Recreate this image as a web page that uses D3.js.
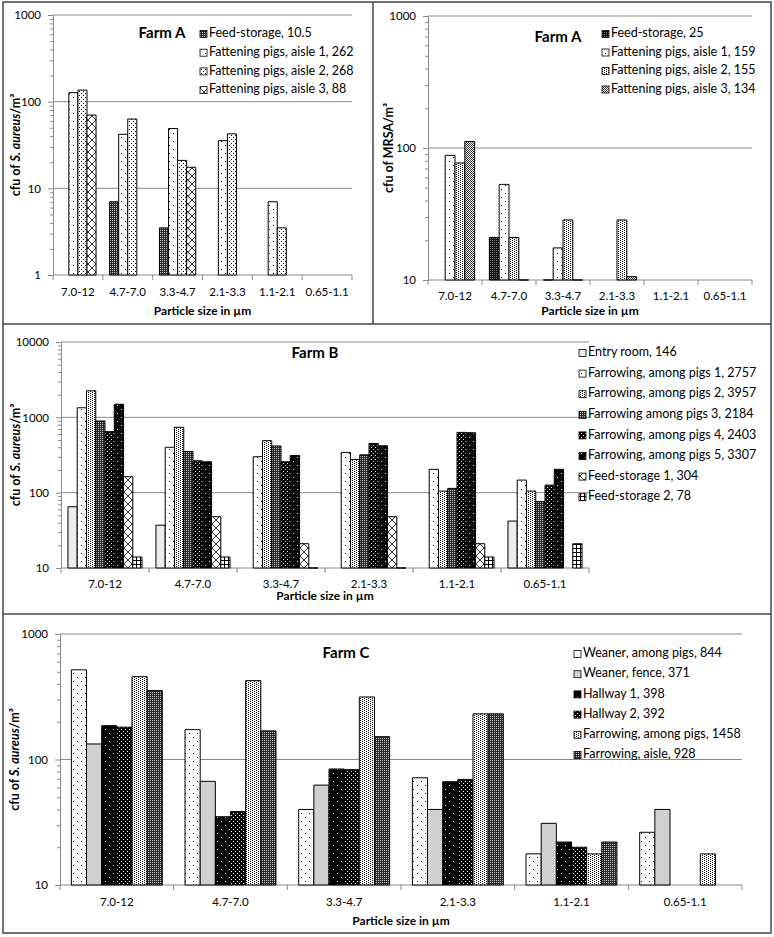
<!DOCTYPE html>
<html>
<head>
<meta charset="utf-8">
<script src="https://cdn.jsdelivr.net/npm/d3@7"></script>
<style>
  body { margin: 0; background: #fff; }
  text { font-family: Lato, "Open Sans", sans-serif; fill: #000; }
</style>
</head>
<body>
<div id="chart"></div>
<script>
// particle size classes (x categories, same for every panel)
const sizes = ["7.0-12", "4.7-7.0", "3.3-4.7", "2.1-3.3", "1.1-2.1", "0.65-1.1"];

// Farm A, S. aureus
const farmANames = ["Feed-storage, 10.5", "Fattening pigs, aisle 1, 262", "Fattening pigs, aisle 2, 268", "Fattening pigs, aisle 3, 88"];
const farmAFeed = [null, 7, 3.5, null, null, null];
const farmAAisle1 = [127, 42, 49, 35.5, 7, null];
const farmAAisle2 = [136, 63, 21, 42.5, 3.5, null];
const farmAAisle3 = [70, null, 17.5, null, null, null];

// Farm A, MRSA
const mrsaNames = ["Feed-storage, 25", "Fattening pigs, aisle 1, 159", "Fattening pigs, aisle 2, 155", "Fattening pigs, aisle 3, 134"];
const mrsaFeed = [null, 21, 4, null, null, null];
const mrsaAisle1 = [88, 53, 17.5, null, null, null];
const mrsaAisle2 = [77, 21, 28.5, 28.5, null, null];
const mrsaAisle3 = [112, 6, 5, 10.6, null, null];

// Farm B, S. aureus
const farmBNames = ["Entry room, 146", "Farrowing, among pigs 1, 2757", "Farrowing, among pigs 2, 3957", "Farrowing among pigs 3, 2184",
  "Farrowing, among pigs 4, 2403", "Farrowing, among pigs 5, 3307", "Feed-storage 1, 304", "Feed-storage 2, 78"];
const farmBEntry = [65, 37, null, null, null, 42];
const farmBPigs1 = [1340, 400, 300, 342, 204, 147];
const farmBPigs2 = [2250, 738, 490, 276, 105, 105];
const farmBPigs3 = [894, 352, 417, 318, 114, 76];
const farmBPigs4 = [646, 265, 257, 450, 631, 126];
const farmBPigs5 = [1490, 257, 312, 419, 625, 204];
const farmBFeed1 = [163, 48, 21, 48, 21, null];
const farmBFeed2 = [14, 14, 8, 8, 14, 21];

// Farm C, S. aureus
const farmCNames = ["Weaner, among pigs, 844", "Weaner, fence, 371", "Hallway 1, 398", "Hallway 2, 392", "Farrowing, among pigs, 1458", "Farrowing, aisle, 928"];
const farmCWeaner = [518, 173, 40, 71.5, 17.7, 26.3];
const farmCFence = [133, 67, 62.5, 40, 31, 40];
const farmCHall1 = [186, 35, 84, 66.5, 22, null];
const farmCHall2 = [181, 38.5, 83, 69.4, 20, null];
const farmCFarrPigs = [457, 425, 315, 231, 17.7, 17.7];
const farmCFarrAisle = [354, 169, 152, 231, 22, null];

const width = 774, height = 937;
const gridColor = "#8a8a8a";

const svg = d3.select("#chart").append("svg")
  .attr("width", width)
  .attr("height", height);

const defs = svg.append("defs");

// excel-like fill patterns
function dotPattern(id, w, h, bg, fg, pts) {
  const pat = defs.append("pattern").attr("id", id)
    .attr("patternUnits", "userSpaceOnUse").attr("width", w).attr("height", h);
  pat.append("rect").attr("width", w).attr("height", h).attr("fill", bg);
  pts.forEach(([px, py]) => pat.append("rect")
    .attr("x", px).attr("y", py).attr("width", 1).attr("height", 1).attr("fill", fg));
}
dotPattern("sparse", 8, 8, "#fff", "#000", [[1, 1], [5, 5]]);
dotPattern("dots12", 4, 4, "#fff", "#000", [[1, 1], [3, 3]]);
dotPattern("dots25", 4, 2, "#fff", "#000", [[0, 0], [2, 1]]);
dotPattern("dots50", 2, 2, "#fff", "#333", [[0, 0], [1, 1]]);
dotPattern("darkgrid", 2, 2, "#2a2a2a", "#c8c8c8", [[0, 0]]);
dotPattern("darkgrid2", 2, 2, "#111", "#777", [[0, 0]]);
dotPattern("blackdots", 4, 4, "#000", "#fff", [[1, 1], [3, 3]]);
dotPattern("blacksparse", 8, 8, "#000", "#fff", [[1, 1], [5, 5]]);

const cross = defs.append("pattern").attr("id", "cross")
  .attr("patternUnits", "userSpaceOnUse").attr("width", 8).attr("height", 8);
cross.append("rect").attr("width", 8).attr("height", 8).attr("fill", "#fff");
cross.append("path").attr("d", "M0,0L8,8M8,0L0,8").attr("stroke", "#000").attr("stroke-width", 0.8);

const squares = defs.append("pattern").attr("id", "squares")
  .attr("patternUnits", "userSpaceOnUse").attr("width", 4).attr("height", 4);
squares.append("rect").attr("width", 4).attr("height", 4).attr("fill", "#fff");
squares.append("path").attr("d", "M0,0.5H4M0.5,0V4").attr("stroke", "#000").attr("stroke-width", 1);

const fill = id => id.startsWith("#") ? id : `url(#${id})`;

function drawPanel(p) {
  const g = svg.append("g");
  const x = d3.scaleBand().domain(sizes).range([p.x0, p.x1]);
  const xs = d3.scaleBand().domain(d3.range(p.series.length))
    .range([0, x.bandwidth()]).paddingInner(0).paddingOuter(0.75);
  const y = d3.scaleLog().domain(p.domain).range([p.yBot, p.yTop]).clamp(true);

  const ticks = y.ticks();
  const majors = ticks.filter(v => Number.isInteger(Math.log10(v)));
  const minors = ticks.filter(v => !Number.isInteger(Math.log10(v)));

  // gridlines
  g.selectAll(".grid").data(majors.filter(v => v > p.domain[0])).enter()
    .append("line")
    .attr("x1", p.x0).attr("x2", p.x1)
    .attr("y1", d => y(d)).attr("y2", d => y(d))
    .attr("stroke", gridColor).attr("stroke-width", 1);

  // y axis
  const yAxis = g.append("g").attr("transform", `translate(${p.x0},0)`)
    .call(d3.axisLeft(y).tickValues(majors).tickFormat(d3.format("d")).tickSize(5).tickPadding(7));
  yAxis.select(".domain").attr("stroke", gridColor);
  yAxis.selectAll(".tick line").attr("stroke", gridColor);
  yAxis.selectAll("text").style("font-size", "11.5px").style("font-family", "Lato, sans-serif");
  const yMinor = g.append("g").attr("transform", `translate(${p.x0},0)`)
    .call(d3.axisLeft(y).tickValues(minors).tickFormat("").tickSize(3));
  yMinor.select(".domain").remove();
  yMinor.selectAll(".tick line").attr("stroke", gridColor);

  // x axis: line, boundary ticks, labels
  g.append("line").attr("x1", p.x0).attr("x2", p.x1)
    .attr("y1", p.yBot).attr("y2", p.yBot).attr("stroke", gridColor);
  const bounds = sizes.map(s => x(s)).concat([x.range()[1]]);
  g.selectAll(".xt").data(bounds).enter().append("line")
    .attr("x1", d => d).attr("x2", d => d)
    .attr("y1", p.yBot).attr("y2", p.yBot + 5).attr("stroke", gridColor);
  g.selectAll(".xl").data(sizes).enter().append("text")
    .attr("x", d => x(d) + x.bandwidth() / 2)
    .attr("y", p.yBot + p.labelGap)
    .attr("text-anchor", "middle").attr("dominant-baseline", "middle")
    .style("font-size", "11.5px")
    .text(d => d);

  // bars
  p.series.forEach((vals, i) => {
    const bars = g.append("g");
    vals.forEach((v, j) => {
      if (v == null) return;
      const bx = x(sizes[j]) + xs(i), bw = xs.bandwidth(), top = y(v);
      bars.append("path")
        .attr("d", `M${bx},${p.yBot}V${top}H${bx + bw}V${p.yBot}Z`)
        .attr("fill", fill(p.fills[i]))
        .attr("stroke", "#000").attr("stroke-width", 1);
    });
  });

  // title
  g.append("text").attr("x", p.title[1]).attr("y", p.title[2])
    .attr("text-anchor", "middle").attr("dominant-baseline", "middle")
    .style("font-size", "15px").style("font-weight", "bold")
    .text(p.title[0]);

  // legend
  const leg = g.append("g");
  p.names.forEach((n, i) => {
    const ly = p.legend[1] + i * p.legend[2];
    leg.append("rect").attr("x", p.legend[0]).attr("y", ly - 3.5)
      .attr("width", 7).attr("height", 7)
      .attr("fill", fill(p.fills[i])).attr("stroke", "#000").attr("stroke-width", 0.8);
    leg.append("text").attr("x", p.legend[0] + 9).attr("y", ly)
      .attr("dominant-baseline", "middle")
      .style("font-size", "12.5px")
      .text(n);
  });

  // axis titles
  g.append("text")
    .attr("x", (p.x0 + p.x1) / 2).attr("y", p.xTitleY)
    .attr("text-anchor", "middle").attr("dominant-baseline", "middle")
    .style("font-size", "12px").style("font-weight", "bold")
    .text("Particle size in µm");

  const yt = g.append("text")
    .attr("transform", `translate(${p.yTitleX},${(p.yTop + p.yBot) / 2}) rotate(-90)`)
    .attr("text-anchor", "middle").attr("dominant-baseline", "middle")
    .style("font-size", "12.5px").style("font-weight", "bold");
  p.yTitle.forEach(([t, it]) => yt.append("tspan").style("font-style", it ? "italic" : "normal").text(t));
}

drawPanel({
  x0: 53, x1: 352, yTop: 15, yBot: 275, domain: [1, 1000], labelGap: 18, xTitleY: 312, yTitleX: 17,
  series: [farmAFeed, farmAAisle1, farmAAisle2, farmAAisle3],
  fills: ["darkgrid", "sparse", "dots12", "cross"],
  names: farmANames, legend: [200, 34, 18.7], title: ["Farm A", 162, 34],
  yTitle: [["cfu of  ", false], ["S. aureus", true], ["/m³", false]]
});

drawPanel({
  x0: 428, x1: 752, yTop: 16, yBot: 280, domain: [10, 1000], labelGap: 17, xTitleY: 312, yTitleX: 390,
  series: [mrsaFeed, mrsaAisle1, mrsaAisle2, mrsaAisle3],
  fills: ["darkgrid2", "sparse", "dots25", "dots50"],
  names: mrsaNames, legend: [602, 34, 18.5], title: ["Farm A", 558, 38],
  yTitle: [["cfu of MRSA/m³", false]]
});

drawPanel({
  x0: 61, x1: 589, yTop: 342, yBot: 568, domain: [10, 10000], labelGap: 17, xTitleY: 597, yTitleX: 17,
  series: [farmBEntry, farmBPigs1, farmBPigs2, farmBPigs3, farmBPigs4, farmBPigs5, farmBFeed1, farmBFeed2],
  fills: ["#ececec", "sparse", "dots25", "darkgrid", "blackdots", "blacksparse", "cross", "squares"],
  names: farmBNames, legend: [579, 353, 20.6], title: ["Farm B", 315, 354],
  yTitle: [["cfu of ", false], ["S. aureus", true], ["/m³", false]]
});

drawPanel({
  x0: 60, x1: 742, yTop: 634, yBot: 885, domain: [10, 1000], labelGap: 18, xTitleY: 922, yTitleX: 16,
  series: [farmCWeaner, farmCFence, farmCHall1, farmCHall2, farmCFarrPigs, farmCFarrAisle],
  fills: ["sparse", "#d0d0d0", "blacksparse", "blackdots", "dots25", "darkgrid"],
  names: farmCNames, legend: [574, 654, 20.2], title: ["Farm C", 346, 654],
  yTitle: [["cfu of ", false], ["S. aureus", true], ["/m³", false]]
});

// panel frames
const frame = svg.append("g").attr("stroke", "#444").attr("stroke-width", 1.5).attr("fill", "none");
frame.append("rect").attr("x", 3).attr("y", 2).attr("width", 768).attr("height", 931);
frame.append("line").attr("x1", 373).attr("x2", 373).attr("y1", 2).attr("y2", 324);
frame.append("line").attr("x1", 3).attr("x2", 771).attr("y1", 324).attr("y2", 324);
frame.append("line").attr("x1", 3).attr("x2", 771).attr("y1", 614).attr("y2", 614);
</script>
</body>
</html>
